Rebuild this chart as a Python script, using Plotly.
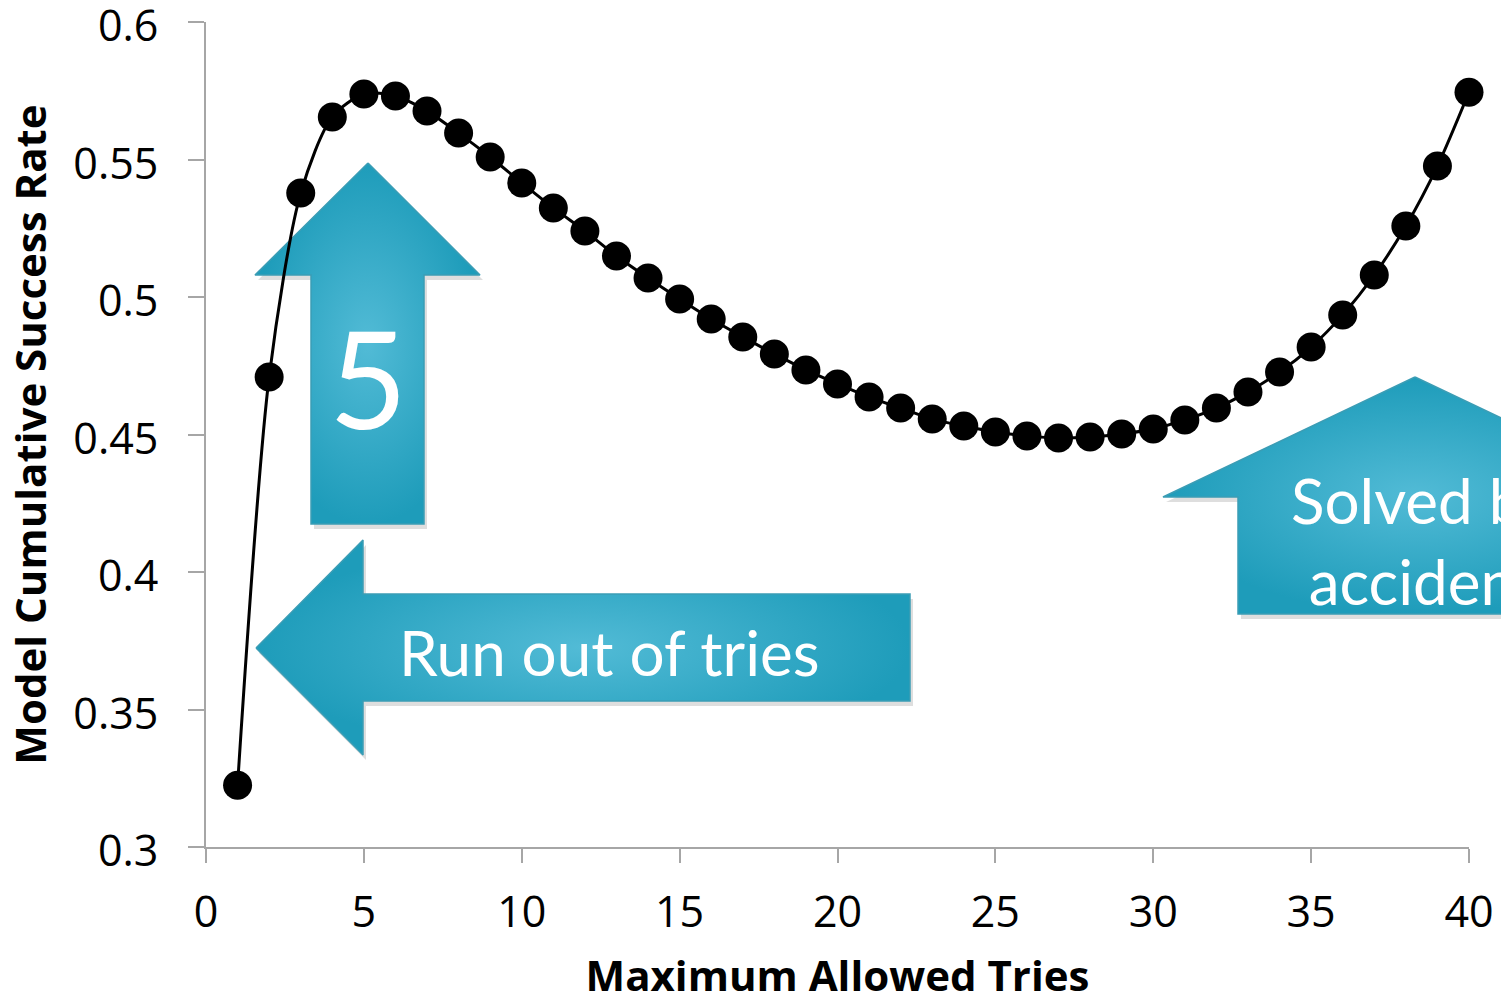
import plotly.graph_objects as go

# Cumulative success rate of the model versus the maximum number of tries allowed
max_tries = list(range(1, 41))
success_rate = [
    0.3225, 0.4709, 0.5378, 0.5655, 0.5738, 0.5731, 0.5676, 0.5596, 0.5509, 0.5415,
    0.5324, 0.5240, 0.5149, 0.5069, 0.4993, 0.4920, 0.4855, 0.4793, 0.4735, 0.4684,
    0.4636, 0.4596, 0.4556, 0.4531, 0.4509, 0.4495, 0.4487, 0.4491, 0.4502, 0.4520,
    0.4553, 0.4596, 0.4655, 0.4727, 0.4818, 0.4935, 0.5080, 0.5258, 0.5476, 0.5745,
]

x_ticks = [0, 5, 10, 15, 20, 25, 30, 35, 40]
x_tick_labels = ["0", "5", "10", "15", "20", "25", "30", "35", "40"]
y_ticks = [0.3, 0.35, 0.4, 0.45, 0.5, 0.55, 0.6]
y_tick_labels = ["0.3", "0.35", "0.4", "0.45", "0.5", "0.55", "0.6"]

W, H = 1501, 1003
PLOT_L, PLOT_R, PLOT_T, PLOT_B = 206, 1469, 22, 847

AXIS_GREY = "#a6a6a6"
TEAL_LIGHT = "#52bbd6"
TEAL_DARK = "#1e9cba"
TICK_FONT = dict(family="Open Sans", size=43, color="black")
TITLE_FONT = dict(family="Open Sans", size=42, color="black")
CALLOUT_FONT = "Lato"

fig = go.Figure()


# Callout arrows live on a full-page overlay axis measured in pixels
def callout(points, name):
    xs = [p[0] for p in points] + [points[0][0]]
    ys = [p[1] for p in points] + [points[0][1]]
    # soft drop shadow
    fig.add_trace(go.Scatter(
        x=[v + 3 for v in xs], y=[v + 5 for v in ys], mode="lines", fill="toself",
        fillcolor="rgba(0,0,0,0.13)", line=dict(width=0), hoverinfo="skip",
        showlegend=False, xaxis="x", yaxis="y", name=name + " shadow",
    ))
    fig.add_trace(go.Scatter(
        x=xs, y=ys, mode="lines", fill="toself",
        fillgradient=dict(type="radial", colorscale=[[0, TEAL_LIGHT], [1, TEAL_DARK]]),
        line=dict(color="#3b9db5", width=1.5), hoverinfo="skip",
        showlegend=False, xaxis="x", yaxis="y", name=name,
    ))


# Up arrow marking the peak at 5 tries
callout([(368, 163), (480, 275), (424, 275), (424, 524), (311, 524), (311, 275), (255, 275)], "peak")
# Left arrow: running out of tries
callout([(256, 648), (363, 540), (363, 594), (910, 594), (910, 701), (363, 701), (363, 755)], "run out")
# Up arrow on the right edge: solved by accident
callout([(1415, 377), (1667, 497), (1592, 497), (1592, 614), (1238, 614), (1238, 497), (1163, 497)], "accident")

# Data series drawn on top of the callouts
fig.add_trace(go.Scatter(
    x=max_tries, y=success_rate, mode="lines+markers",
    line=dict(color="black", width=3, shape="spline", smoothing=0.8),
    marker=dict(color="black", size=29),
    cliponaxis=False, showlegend=False, xaxis="x2", yaxis="y2",
))

fig.update_layout(
    width=W, height=H, autosize=False,
    margin=dict(l=0, r=0, t=0, b=0, autoexpand=False),
    paper_bgcolor="white", plot_bgcolor="rgba(0,0,0,0)",
    xaxis=dict(domain=[0, 1], range=[0, W], visible=False, fixedrange=True, automargin=False),
    yaxis=dict(domain=[0, 1], range=[H, 0], visible=False, fixedrange=True, automargin=False),
    xaxis2=dict(
        domain=[PLOT_L / W, PLOT_R / W], anchor="y2", range=[0, 40], automargin=False,
        tickvals=x_ticks, ticktext=x_tick_labels, tickfont=TICK_FONT, ticklabeloverflow="allow",
        ticks="outside", ticklen=14, tickwidth=2, tickcolor=AXIS_GREY,
        showline=True, linecolor=AXIS_GREY, linewidth=2, showgrid=False, zeroline=False,
        ticklabelstandoff=12,
        title=dict(text="<b>Maximum Allowed Tries</b>", font=TITLE_FONT, standoff=28),
    ),
    yaxis2=dict(
        domain=[(H - PLOT_B) / H, (H - PLOT_T) / H], anchor="x2", range=[0.3, 0.6], automargin=False,
        tickvals=y_ticks, ticktext=y_tick_labels, tickfont=TICK_FONT, ticklabeloverflow="allow",
        ticks="outside", ticklen=16, tickwidth=2, tickcolor=AXIS_GREY,
        showline=True, linecolor=AXIS_GREY, linewidth=2, showgrid=False, zeroline=False,
        ticklabelstandoff=21, ticklabelshift=4,
        title=dict(text="<b>Model Cumulative Success Rate</b>", font=TITLE_FONT, standoff=14),
    ),
    annotations=[
        dict(text="5", x=368, y=377, xref="x", yref="y", showarrow=False,
             font=dict(family=CALLOUT_FONT, size=135, color="white"),
             xanchor="center", yanchor="middle"),
        dict(text="Run out of tries", x=609, y=652, xref="x", yref="y", showarrow=False,
             font=dict(family=CALLOUT_FONT, size=62, color="white"),
             xanchor="center", yanchor="middle"),
        dict(text="Solved by<br>accident", x=1423, y=540, xref="x", yref="y", showarrow=False,
             font=dict(family=CALLOUT_FONT, size=62, color="white"),
             xanchor="center", yanchor="middle", align="center"),
    ],
)

fig.write_html("out.html")
